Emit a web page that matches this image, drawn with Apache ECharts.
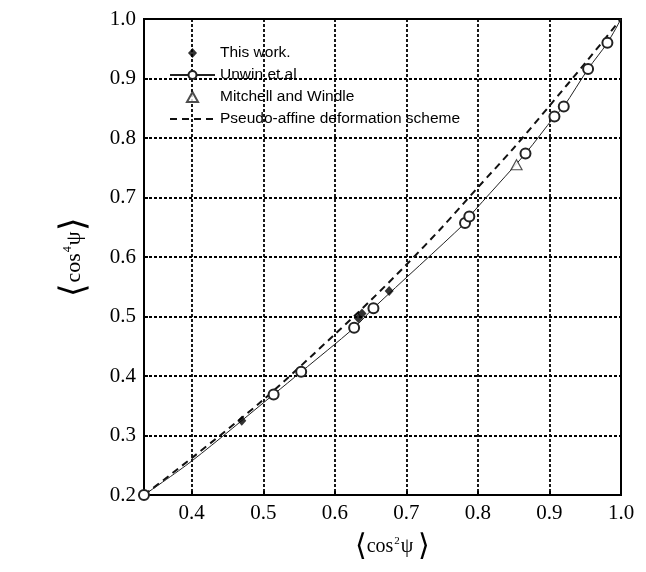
<!DOCTYPE html>
<html>
<head>
<meta charset="utf-8">
<script src="https://cdn.jsdelivr.net/npm/echarts@6/dist/echarts.min.js"></script>
<style>html,body{margin:0;padding:0;background:#fff}#main{width:646px;height:572px}</style>
</head>
<body>
<div id="main"></div>
<script>
// values
var thisWorkX = [0.470, 0.633, 0.638, 0.676];
var thisWorkY = [0.325, 0.497, 0.505, 0.543];

// Unwin et.al: circles on a solid curve (curve ends at 1,1 without a marker)
var unwinX = [0.3333, 0.400, 0.5145, 0.553, 0.627, 0.654, 0.782, 0.788, 0.8665, 0.907, 0.920, 0.954, 0.981, 1.0];
var unwinY = [0.200, 0.257, 0.369, 0.407, 0.481, 0.514, 0.657, 0.668, 0.774, 0.836, 0.853, 0.916, 0.960, 1.0];
var unwinMarked = [1, 0, 1, 1, 1, 1, 1, 1, 1, 1, 1, 1, 1, 0];

var mitchellX = [0.854];
var mitchellY = [0.755];

var affineX = [0.3333, 0.40, 0.50, 0.60, 0.65, 0.70, 0.75, 0.80, 0.85, 0.90, 0.95, 1.0];
var affineY = [0.200, 0.262, 0.360, 0.470, 0.527, 0.587, 0.650, 0.717, 0.783, 0.854, 0.926, 1.0];

var yTicks = [0.2, 0.3, 0.4, 0.5, 0.6, 0.7, 0.8, 0.9, 1.0];

var diamondPath = 'path://M5,0L9.5,5L5,10L0.5,5Z';
var trianglePath = 'path://M5,0L10,9L0,9Z';

function pairs(xs, ys) {
    var out = [];
    for (var i = 0; i < xs.length; i++) {
        out.push([xs[i], ys[i]]);
    }
    return out;
}

var unwinData = [];
for (var i = 0; i < unwinX.length; i++) {
    var item = {value: [unwinX[i], unwinY[i]]};
    if (!unwinMarked[i]) item.symbol = 'none';
    unwinData.push(item);
}

var serif = 'Liberation Serif';
var bracketFont = "'DejaVu Sans ExtraLight', 'DejaVu Sans'";
var nameRich = {
    b: {fontFamily: bracketFont, fontSize: 30, color: '#000', fontWeight: 200},
    t: {fontFamily: serif, fontSize: 20, color: '#000'},
    s: {fontFamily: serif, fontSize: 11, color: '#000', verticalAlign: 'top', padding: [4, 1, 0, 1]}
};
var nameRichY = {
    b: {fontFamily: bracketFont, fontSize: 35, color: '#000', fontWeight: 200},
    t: {fontFamily: serif, fontSize: 22, color: '#000'},
    s: {fontFamily: serif, fontSize: 12, color: '#000', verticalAlign: 'top', padding: [5, 1, 0, 1]}
};

var chart = echarts.init(document.getElementById('main'));
var option = {
    animation: false,
    backgroundColor: '#fff',
    grid: {left: 144, right: 25, top: 19, bottom: 77, show: true, borderColor: '#000', borderWidth: 2},
    legend: {
        orient: 'vertical',
        left: 164,
        top: 40,
        itemWidth: 45,
        itemHeight: 10,
        itemGap: 6,
        textStyle: {fontFamily: 'Liberation Sans', fontSize: 15.5, color: '#000'},
        data: [
            'This work.',
            'Unwin et.al',
            'Mitchell and Windle',
            {name: 'Pseudo-affine deformation scheme', itemStyle: {opacity: 0}}
        ]
    },
    xAxis: {
        type: 'value',
        min: 1 / 3,
        max: 1.0,
        splitNumber: 7,
        name: '{b|⟨}{t|cos}{s|2}{t|ψ }{b|⟩}',
        nameLocation: 'middle',
        nameGap: 37,
        nameTextStyle: {rich: nameRich, padding: [0, 0, 0, 20]},
        axisLine: {lineStyle: {color: '#000', width: 2}},
        axisTick: {inside: true, length: 4, lineStyle: {color: '#000', width: 2}},
        axisLabel: {
            showMinLabel: false,
            margin: 8,
            fontFamily: serif, fontSize: 21, color: '#000',
            formatter: function (v) { return v.toFixed(1); }
        },
        splitLine: {lineStyle: {color: '#000', width: 1.8, type: [3, 2]}}
    },
    yAxis: {
        type: 'value',
        min: yTicks[0],
        max: yTicks[yTicks.length - 1],
        interval: 0.1,
        name: '{b|⟨}{t|cos}{s|4}{t|ψ}{b|⟩}',
        nameLocation: 'middle',
        nameRotate: 90,
        nameGap: 52,
        nameTextStyle: {rich: nameRichY},
        axisLine: {lineStyle: {color: '#000', width: 2}},
        axisTick: {inside: true, length: 4, lineStyle: {color: '#000', width: 2}},
        axisLabel: {
            margin: 8,
            fontFamily: serif, fontSize: 21, color: '#000',
            formatter: function (v) { return v.toFixed(1); }
        },
        splitLine: {lineStyle: {color: '#000', width: 1.8, type: [3, 2]}}
    },
    series: [
        {
            name: 'This work.',
            type: 'scatter',
            symbol: diamondPath,
            symbolKeepAspect: true,
            symbolSize: 10,
            itemStyle: {color: '#000'},
            z: 5,
            data: pairs(thisWorkX, thisWorkY)
        },
        {
            name: 'Unwin et.al',
            type: 'line',
            smooth: 0.3,
            symbol: 'emptyCircle',
            symbolSize: 10,
            showAllSymbol: true,
            lineStyle: {color: '#222', width: 1},
            itemStyle: {color: '#222', borderWidth: 1},
            z: 4,
            data: unwinData
        },
        {
            name: 'Mitchell and Windle',
            type: 'scatter',
            symbol: trianglePath,
            symbolKeepAspect: true,
            symbolSize: 11,
            itemStyle: {color: '#fff', borderColor: '#222', borderWidth: 1.2},
            z: 5,
            data: pairs(mitchellX, mitchellY)
        },
        {
            name: 'Pseudo-affine deformation scheme',
            type: 'line',
            smooth: 0.3,
            symbol: 'none',
            lineStyle: {color: '#111', width: 2, type: [7, 5]},
            itemStyle: {color: '#111'},
            z: 3,
            data: pairs(affineX, affineY)
        }
    ]
};
chart.setOption(option);
</script>
</body>
</html>
